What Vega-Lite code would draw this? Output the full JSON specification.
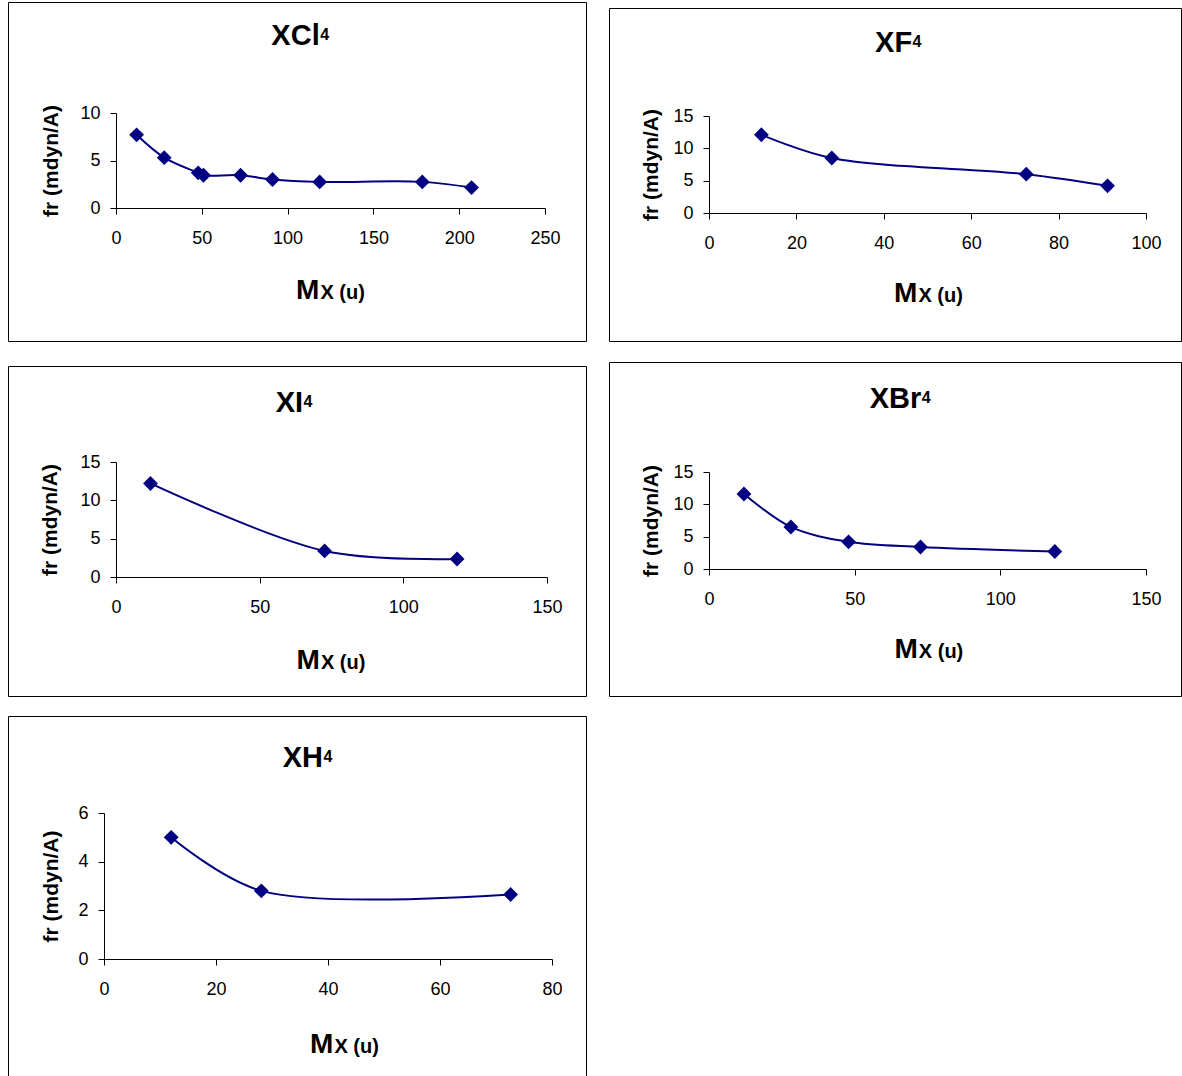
{
  "$schema": "https://vega.github.io/schema/vega-lite/v6.json",
  "padding": {"left": 7, "top": 1, "right": 0, "bottom": 0},
  "background": "white",
  "config": {
    "view": {"stroke": "#000", "strokeWidth": 1},
    "font": "Liberation Sans",
    "axis": {"grid": false, "domainColor": "#000", "tickColor": "#000", "labelColor": "#000", "labelFont": "Liberation Sans", "labelFontSize": 18, "tickSize": 6, "labelFlush": false, "labelOverlap": false, "labelBound": false, "titleColor": "#000", "titleFont": "Liberation Sans", "titleFontWeight": "bold"},
    "axisBottom": {"labelPadding": 15},
    "axisLeft": {"labelPadding": 10}
  },
  "datasets": {
    "xcl4": [{"m": 12, "fr": 7.7}, {"m": 28.1, "fr": 5.3}, {"m": 47.9, "fr": 3.7}, {"m": 51, "fr": 3.45}, {"m": 72.6, "fr": 3.45}, {"m": 91.2, "fr": 3.0}, {"m": 118.7, "fr": 2.75}, {"m": 178.5, "fr": 2.75}, {"m": 207.2, "fr": 2.15}],
    "xf4": [{"m": 12, "fr": 12.1}, {"m": 28.1, "fr": 8.5}, {"m": 72.6, "fr": 6.0}, {"m": 91.2, "fr": 4.2}],
    "xi4": [{"m": 12, "fr": 12.2}, {"m": 72.6, "fr": 3.4}, {"m": 118.7, "fr": 2.35}],
    "xbr4": [{"m": 12, "fr": 11.6}, {"m": 28.1, "fr": 6.5}, {"m": 47.9, "fr": 4.2}, {"m": 72.6, "fr": 3.4}, {"m": 118.7, "fr": 2.7}],
    "xh4": [{"m": 12, "fr": 5.0}, {"m": 28.1, "fr": 2.8}, {"m": 72.6, "fr": 2.65}],
    "empty": []
  },
  "spacing": 21,
  "hconcat": [
    {
      "spacing": 18,
      "vconcat": [
        {
          "spacing": 23,
          "vconcat": [
            {
              "width": 578, "height": 339,
              "data": {"name": "xcl4"},
              "title": {"text": "4", "anchor": "start", "frame": "group", "align": "left", "dx": 312.2, "offset": -54, "fontSize": 16, "fontWeight": "bold", "baseline": "alphabetic", "color": "#000", "font": "Liberation Sans"},
              "layer": [
                {"mark": {"type": "line", "interpolate": "catmull-rom", "color": "#000080", "strokeWidth": 2},
                 "encoding": {
                   "x": {"field": "m", "type": "quantitative", "scale": {"domain": [0, 250], "range": [108, 537], "nice": false, "zero": false}, "axis": {"orient": "bottom", "offset": -133, "values": [0, 50, 100, 150, 200, 250], "title": "M", "titleX": 310.95, "titleY": 90, "titleAlign": "right", "titleAngle": 0, "titleBaseline": "alphabetic", "titleFontSize": 28}},
                   "y": {"field": "fr", "type": "quantitative", "scale": {"domain": [0, 10], "range": [206, 111], "nice": false}, "axis": {"orient": "left", "offset": -108, "values": [0, 5, 10], "title": "fr (mdyn/A)", "titleX": -65, "titleY": 158.5, "titleAngle": 270, "titleAlign": "center", "titleBaseline": "middle", "titleFontSize": 21}}
                 }},
                {"mark": {"type": "point", "shape": "diamond", "filled": true, "size": 220, "color": "#000080", "opacity": 1},
                 "encoding": {
                   "x": {"field": "m", "type": "quantitative", "axis": {"orient": "top", "labels": false, "ticks": false, "domain": false, "title": "X (u)", "titleX": 311.95, "titleY": 296, "titleAlign": "left", "titleAngle": 0, "titleBaseline": "alphabetic", "titleFontSize": 20}},
                   "y": {"field": "fr", "type": "quantitative", "axis": {"orient": "right", "labels": false, "ticks": false, "domain": false, "title": "XCl", "titleX": -266.8, "titleY": 42, "titleAlign": "right", "titleAngle": 0, "titleBaseline": "alphabetic", "titleFontSize": 29}}
                 }}
              ],
              "resolve": {"axis": {"x": "independent", "y": "independent"}}
            },
            {
              "width": 578, "height": 330,
              "data": {"name": "xi4"},
              "title": {"text": "4", "anchor": "start", "frame": "group", "align": "left", "dx": 295.55, "offset": -57, "fontSize": 16, "fontWeight": "bold", "baseline": "alphabetic", "color": "#000", "font": "Liberation Sans"},
              "layer": [
                {"mark": {"type": "line", "interpolate": "catmull-rom", "color": "#000080", "strokeWidth": 2},
                 "encoding": {
                   "x": {"field": "m", "type": "quantitative", "scale": {"domain": [0, 150], "range": [108, 539], "nice": false, "zero": false}, "axis": {"orient": "bottom", "offset": -119, "values": [0, 50, 100, 150], "title": "M", "titleX": 311.45, "titleY": 91, "titleAlign": "right", "titleAngle": 0, "titleBaseline": "alphabetic", "titleFontSize": 28}},
                   "y": {"field": "fr", "type": "quantitative", "scale": {"domain": [0, 15], "range": [211, 96], "nice": false}, "axis": {"orient": "left", "offset": -108, "values": [0, 5, 10, 15], "title": "fr (mdyn/A)", "titleX": -66, "titleY": 153.5, "titleAngle": 270, "titleAlign": "center", "titleBaseline": "middle", "titleFontSize": 21}}
                 }},
                {"mark": {"type": "point", "shape": "diamond", "filled": true, "size": 220, "color": "#000080", "opacity": 1},
                 "encoding": {
                   "x": {"field": "m", "type": "quantitative", "axis": {"orient": "top", "labels": false, "ticks": false, "domain": false, "title": "X (u)", "titleX": 312.45, "titleY": 302, "titleAlign": "left", "titleAngle": 0, "titleBaseline": "alphabetic", "titleFontSize": 20}},
                   "y": {"field": "fr", "type": "quantitative", "axis": {"orient": "right", "labels": false, "ticks": false, "domain": false, "title": "XI", "titleX": -283.45, "titleY": 45, "titleAlign": "right", "titleAngle": 0, "titleBaseline": "alphabetic", "titleFontSize": 29}}
                 }}
              ],
              "resolve": {"axis": {"x": "independent", "y": "independent"}}
            }
          ]
        },
        {
          "width": 578, "height": 361,
          "data": {"name": "xh4"},
          "title": {"text": "4", "anchor": "start", "frame": "group", "align": "left", "dx": 315.5, "offset": -62, "fontSize": 16, "fontWeight": "bold", "baseline": "alphabetic", "color": "#000", "font": "Liberation Sans"},
          "layer": [
            {"mark": {"type": "line", "interpolate": "catmull-rom", "color": "#000080", "strokeWidth": 2},
             "encoding": {
               "x": {"field": "m", "type": "quantitative", "scale": {"domain": [0, 80], "range": [96, 544], "nice": false, "zero": false}, "axis": {"orient": "bottom", "offset": -118, "values": [0, 20, 40, 60, 80], "title": "M", "titleX": 324.95, "titleY": 93, "titleAlign": "right", "titleAngle": 0, "titleBaseline": "alphabetic", "titleFontSize": 28}},
               "y": {"field": "fr", "type": "quantitative", "scale": {"domain": [0, 6], "range": [243, 97], "nice": false}, "axis": {"orient": "left", "offset": -96, "values": [0, 2, 4, 6], "title": "fr (mdyn/A)", "titleX": -52.5, "titleY": 170, "titleAngle": 270, "titleAlign": "center", "titleBaseline": "middle", "titleFontSize": 21}}
             }},
            {"mark": {"type": "point", "shape": "diamond", "filled": true, "size": 220, "color": "#000080", "opacity": 1},
             "encoding": {
               "x": {"field": "m", "type": "quantitative", "axis": {"orient": "top", "labels": false, "ticks": false, "domain": false, "title": "X (u)", "titleX": 325.95, "titleY": 336, "titleAlign": "left", "titleAngle": 0, "titleBaseline": "alphabetic", "titleFontSize": 20}},
               "y": {"field": "fr", "type": "quantitative", "axis": {"orient": "right", "labels": false, "ticks": false, "domain": false, "title": "XH", "titleX": -263.5, "titleY": 50, "titleAlign": "right", "titleAngle": 0, "titleBaseline": "alphabetic", "titleFontSize": 29}}
             }}
          ],
          "resolve": {"axis": {"x": "independent", "y": "independent"}}
        }
      ]
    },
    {
      "spacing": 0,
      "vconcat": [
        {
          "width": 572, "height": 4,
          "view": {"stroke": "transparent"},
          "data": {"name": "empty"},
          "mark": "point"
        },
        {
          "spacing": 19,
          "vconcat": [
            {
              "width": 572, "height": 333,
              "data": {"name": "xf4"},
              "title": {"text": "4", "anchor": "start", "frame": "group", "align": "left", "dx": 303.6, "offset": -55, "fontSize": 16, "fontWeight": "bold", "baseline": "alphabetic", "color": "#000", "font": "Liberation Sans"},
              "layer": [
                {"mark": {"type": "line", "interpolate": "catmull-rom", "color": "#000080", "strokeWidth": 2},
                 "encoding": {
                   "x": {"field": "m", "type": "quantitative", "scale": {"domain": [0, 100], "range": [100, 537], "nice": false, "zero": false}, "axis": {"orient": "bottom", "offset": -128, "values": [0, 20, 40, 60, 80, 100], "title": "M", "titleX": 307.95, "titleY": 88, "titleAlign": "right", "titleAngle": 0, "titleBaseline": "alphabetic", "titleFontSize": 28}},
                   "y": {"field": "fr", "type": "quantitative", "scale": {"domain": [0, 15], "range": [205, 108], "nice": false}, "axis": {"orient": "left", "offset": -100, "values": [0, 5, 10, 15], "title": "fr (mdyn/A)", "titleX": -58, "titleY": 156.5, "titleAngle": 270, "titleAlign": "center", "titleBaseline": "middle", "titleFontSize": 21}}
                 }},
                {"mark": {"type": "point", "shape": "diamond", "filled": true, "size": 220, "color": "#000080", "opacity": 1},
                 "encoding": {
                   "x": {"field": "m", "type": "quantitative", "axis": {"orient": "top", "labels": false, "ticks": false, "domain": false, "title": "X (u)", "titleX": 308.95, "titleY": 293, "titleAlign": "left", "titleAngle": 0, "titleBaseline": "alphabetic", "titleFontSize": 20}},
                   "y": {"field": "fr", "type": "quantitative", "axis": {"orient": "right", "labels": false, "ticks": false, "domain": false, "title": "XF", "titleX": -269.4, "titleY": 43, "titleAlign": "right", "titleAngle": 0, "titleBaseline": "alphabetic", "titleFontSize": 29}}
                 }}
              ],
              "resolve": {"axis": {"x": "independent", "y": "independent"}}
            },
            {
              "width": 572, "height": 334,
              "data": {"name": "xbr4"},
              "title": {"text": "4", "anchor": "start", "frame": "group", "align": "left", "dx": 312.85, "offset": -57, "fontSize": 16, "fontWeight": "bold", "baseline": "alphabetic", "color": "#000", "font": "Liberation Sans"},
              "layer": [
                {"mark": {"type": "line", "interpolate": "catmull-rom", "color": "#000080", "strokeWidth": 2},
                 "encoding": {
                   "x": {"field": "m", "type": "quantitative", "scale": {"domain": [0, 150], "range": [100, 537], "nice": false, "zero": false}, "axis": {"orient": "bottom", "offset": -127, "values": [0, 50, 100, 150], "title": "M", "titleX": 308.35, "titleY": 88, "titleAlign": "right", "titleAngle": 0, "titleBaseline": "alphabetic", "titleFontSize": 28}},
                   "y": {"field": "fr", "type": "quantitative", "scale": {"domain": [0, 15], "range": [207, 110], "nice": false}, "axis": {"orient": "left", "offset": -100, "values": [0, 5, 10, 15], "title": "fr (mdyn/A)", "titleX": -58, "titleY": 158.5, "titleAngle": 270, "titleAlign": "center", "titleBaseline": "middle", "titleFontSize": 21}}
                 }},
                {"mark": {"type": "point", "shape": "diamond", "filled": true, "size": 220, "color": "#000080", "opacity": 1},
                 "encoding": {
                   "x": {"field": "m", "type": "quantitative", "axis": {"orient": "top", "labels": false, "ticks": false, "domain": false, "title": "X (u)", "titleX": 309.35, "titleY": 295, "titleAlign": "left", "titleAngle": 0, "titleBaseline": "alphabetic", "titleFontSize": 20}},
                   "y": {"field": "fr", "type": "quantitative", "axis": {"orient": "right", "labels": false, "ticks": false, "domain": false, "title": "XBr", "titleX": -260.15, "titleY": 45, "titleAlign": "right", "titleAngle": 0, "titleBaseline": "alphabetic", "titleFontSize": 29}}
                 }}
              ],
              "resolve": {"axis": {"x": "independent", "y": "independent"}}
            }
          ]
        }
      ]
    }
  ]
}
